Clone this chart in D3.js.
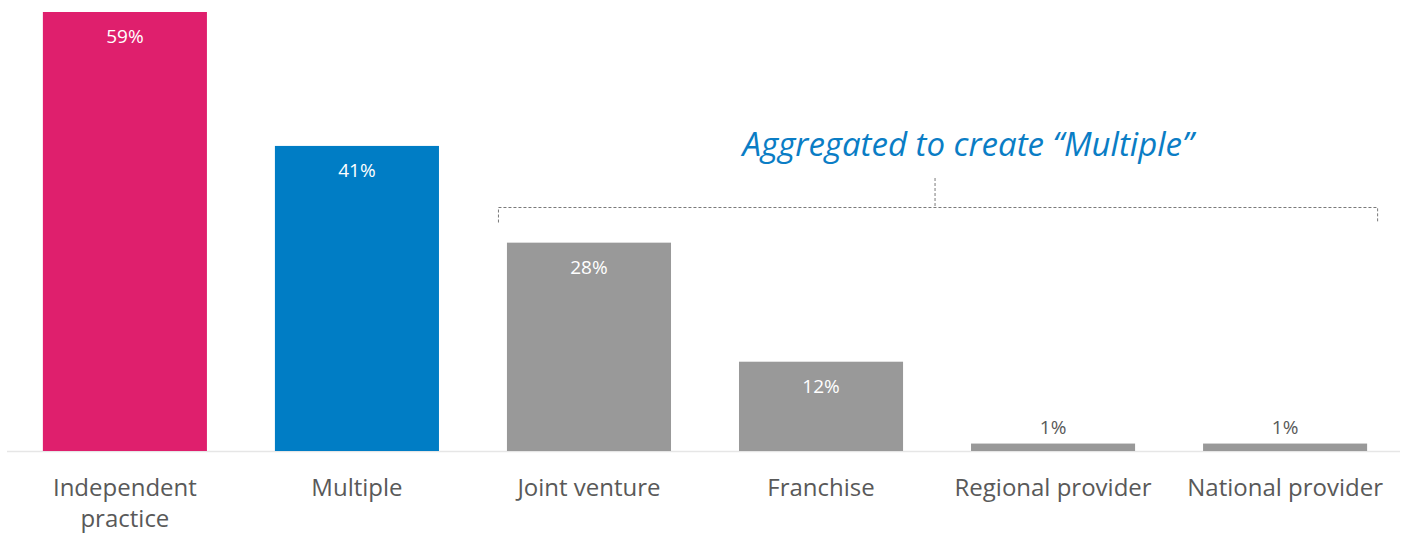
<!DOCTYPE html>
<html>
<head>
<meta charset="utf-8">
<script src="https://cdn.jsdelivr.net/npm/d3@7"></script>
<style>
  html, body { margin: 0; padding: 0; background: #fff; }
  svg { display: block; font-family: "Open Sans", "Noto Sans", sans-serif; }
</style>
</head>
<body>
<svg id="chart" width="1405" height="533"></svg>
<script>
// Share of practices by ownership type
const categories = ["Independent practice", "Multiple", "Joint venture", "Franchise", "Regional provider", "National provider"];
const values = [59, 41, 28, 12, 1, 1];
const barColors = ["#df1f6d", "#007dc5", "#999999", "#999999", "#999999", "#999999"];
const annotationText = "Aggregated to create \u201cMultiple\u201d";
const groupedCategories = ["Joint venture", "Franchise", "Regional provider", "National provider"];

const svg = d3.select("#chart");
const baseY = 451;

const x = d3.scaleBand()
  .domain(categories)
  .range([9, 1401])
  .paddingInner(0.293)
  .paddingOuter(0.146);

const y = d3.scaleLinear()
  .domain([0, 59])
  .range([baseY, 12]);

// Baseline
svg.append("line")
  .attr("x1", 7).attr("x2", 1400)
  .attr("y1", baseY + 0.5).attr("y2", baseY + 0.5)
  .attr("stroke", "#e6e6e6").attr("stroke-width", 1.5);

// Bars
svg.selectAll("rect.bar")
  .data(categories)
  .join("rect")
  .attr("class", "bar")
  .attr("x", d => x(d))
  .attr("width", x.bandwidth())
  .attr("y", (d, i) => y(values[i]))
  .attr("height", (d, i) => baseY - y(values[i]))
  .attr("fill", (d, i) => barColors[i]);

// Value labels: inside tall bars, above short ones
const inside = v => baseY - y(v) > 40;
svg.selectAll("text.value")
  .data(categories)
  .join("text")
  .attr("class", "value")
  .attr("x", d => x(d) + x.bandwidth() / 2)
  .attr("y", (d, i) => inside(values[i]) ? y(values[i]) + 31 : y(values[i]) - 10)
  .attr("text-anchor", "middle")
  .attr("font-size", 19)
  .attr("fill", (d, i) => inside(values[i]) ? "#ffffff" : "#595959")
  .text((d, i) => values[i] + "%");

// Category labels, long ones wrapped onto two lines
const wrapped = {"Independent practice": ["Independent", "practice"]};
const catLabels = svg.selectAll("text.cat")
  .data(categories)
  .join("text")
  .attr("class", "cat")
  .attr("x", d => x(d) + x.bandwidth() / 2)
  .attr("y", 496)
  .attr("text-anchor", "middle")
  .attr("font-size", 24)
  .attr("fill", "#595959");
catLabels.each(function(d) {
  const lines = wrapped[d] || [d];
  const t = d3.select(this);
  lines.forEach((ln, k) => {
    t.append("tspan")
      .attr("x", x(d) + x.bandwidth() / 2)
      .attr("dy", k === 0 ? 0 : 31)
      .text(ln);
  });
});

// Bracket showing which categories are aggregated
const gx0 = x(groupedCategories[0]) - 9;
const last = groupedCategories[groupedCategories.length - 1];
const gx1 = x(last) + x.bandwidth() + 10;
const gMid = (gx0 + gx1) / 2 - 3;
const bracketY = 207.5;
const bracket = svg.append("g")
  .attr("fill", "none")
  .attr("stroke", "#7a7a7a")
  .attr("stroke-width", 1)
  .attr("stroke-dasharray", "3,2");
bracket.append("path")
  .attr("d", `M${gx0 + 0.5},${bracketY + 15} V${bracketY} H${gx1 + 0.5} V${bracketY + 15}`);
bracket.append("line")
  .attr("x1", gMid + 0.5).attr("x2", gMid + 0.5)
  .attr("y1", 178).attr("y2", bracketY);

svg.append("text")
  .attr("x", 968)
  .attr("y", 156)
  .attr("text-anchor", "middle")
  .attr("font-size", 33)
  .attr("font-style", "italic")
  .attr("fill", "#0a7dc5")
  .text(annotationText);
</script>
</body>
</html>
